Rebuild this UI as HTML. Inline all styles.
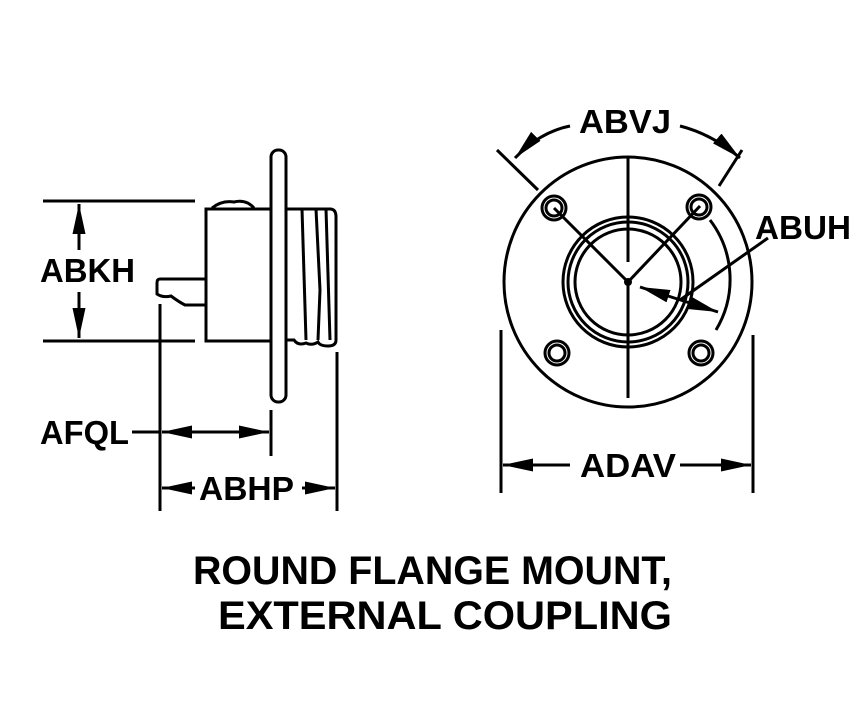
<!DOCTYPE html>
<html><head><style>body{margin:0;background:#fff}svg{display:block}</style></head><body>
<svg width="866" height="706" viewBox="0 0 866 706" xmlns="http://www.w3.org/2000/svg" font-family="Liberation Sans, sans-serif" font-weight="bold">
<defs>
<marker id="b" viewBox="0 0 10 10" preserveAspectRatio="none" refX="10" refY="5" markerWidth="30" markerHeight="13" orient="auto-start-reverse" markerUnits="userSpaceOnUse"><path d="M0,0L10,5L0,10z"/></marker></defs>
<g stroke="#000" fill="none" stroke-width="3">
<line x1="43" y1="201" x2="195" y2="201"/><line x1="43" y1="341" x2="195" y2="341"/>
<line x1="79" y1="250" x2="79" y2="204" marker-end="url(#b)"/>
<line x1="79" y1="292" x2="79" y2="338" marker-end="url(#b)"/>
<rect x="206" y="209" width="66" height="132"/>
<path d="M212,208 q10,-8 22,-6 q12,-3 20,6" />
<rect x="271" y="150" width="15" height="252" rx="7" fill="#fff"/>
<path d="M286,209 H330 q6,0 6,8 V340 q0,6 -8,6 q-8,0 -10,-4 q-6,4 -12,1 q-8,3 -12,-3 H286"/>
<path d="M302,209 L306,340 M316,209 L320,290 L318,340 M326,209 L330,340"/>
<path d="M206,279 H160 q-3,0 -3,4 V294 q6,4 14,2 q8,6 14,9 H206"/>
<line x1="160" y1="304" x2="160" y2="511"/>
<line x1="271" y1="410" x2="271" y2="456"/>
<line x1="337" y1="352" x2="337" y2="511"/>
<line x1="132" y1="432" x2="160" y2="432"/>
<line x1="162" y1="432" x2="269" y2="432" marker-start="url(#b)" marker-end="url(#b)"/>
<line x1="162" y1="488" x2="195" y2="488" marker-start="url(#b)"/>
<line x1="302" y1="488" x2="335" y2="488" marker-end="url(#b)"/>
<ellipse cx="628" cy="282" rx="124" ry="125"/>
<circle cx="628" cy="282" r="65"/><circle cx="628" cy="282" r="60"/><circle cx="628" cy="282" r="53"/>
<line x1="628" y1="157" x2="628" y2="262"/><line x1="628" y1="282" x2="628" y2="398"/>
<line x1="497" y1="150" x2="538" y2="190"/><line x1="742" y1="150" x2="719" y2="186"/>
<line x1="554" y1="208" x2="628" y2="282"/><line x1="700" y1="206" x2="628" y2="282"/>
<circle cx="554" cy="208" r="12"/><circle cx="554" cy="208" r="8"/>
<circle cx="699" cy="207" r="12"/><circle cx="699" cy="207" r="8"/>
<circle cx="557" cy="353" r="12"/><circle cx="557" cy="353" r="8"/>
<circle cx="701" cy="353" r="12"/><circle cx="701" cy="353" r="8"/>
<path d="M710,220 A98,98 0 0 1 716,330"/>
<line x1="768" y1="238" x2="680" y2="300"/>
<line x1="640" y1="287" x2="718" y2="312" marker-start="url(#b)" marker-end="url(#b)"/>
<path d="M570,126 Q540,132 515,158" marker-end="url(#b)"/>
<path d="M680,126 Q712,134 740,158" marker-end="url(#b)"/>
<line x1="501" y1="330" x2="501" y2="493"/><line x1="753" y1="335" x2="753" y2="493"/>
<line x1="503" y1="465" x2="570" y2="465" marker-start="url(#b)"/>
<line x1="680" y1="465" x2="751" y2="465" marker-end="url(#b)"/>
</g>
<circle cx="628" cy="282" r="4"/>
<g font-size="33" fill="#000">
<text x="40" y="282" textLength="95" lengthAdjust="spacingAndGlyphs">ABKH</text>
<text x="40" y="444" textLength="89" lengthAdjust="spacingAndGlyphs">AFQL</text>
<text x="199" y="500" textLength="95" lengthAdjust="spacingAndGlyphs">ABHP</text>
<text x="579" y="133" textLength="92" lengthAdjust="spacingAndGlyphs">ABVJ</text>
<text x="755" y="239" textLength="96" lengthAdjust="spacingAndGlyphs">ABUH</text>
<text x="580" y="477" textLength="96" lengthAdjust="spacingAndGlyphs">ADAV</text>
</g>
<g font-size="40" fill="#000">
<text x="193" y="584" textLength="479" lengthAdjust="spacingAndGlyphs">ROUND FLANGE MOUNT,</text>
<text x="218" y="629" textLength="454" lengthAdjust="spacingAndGlyphs">EXTERNAL COUPLING</text>
</g>
</svg>
</body></html>
